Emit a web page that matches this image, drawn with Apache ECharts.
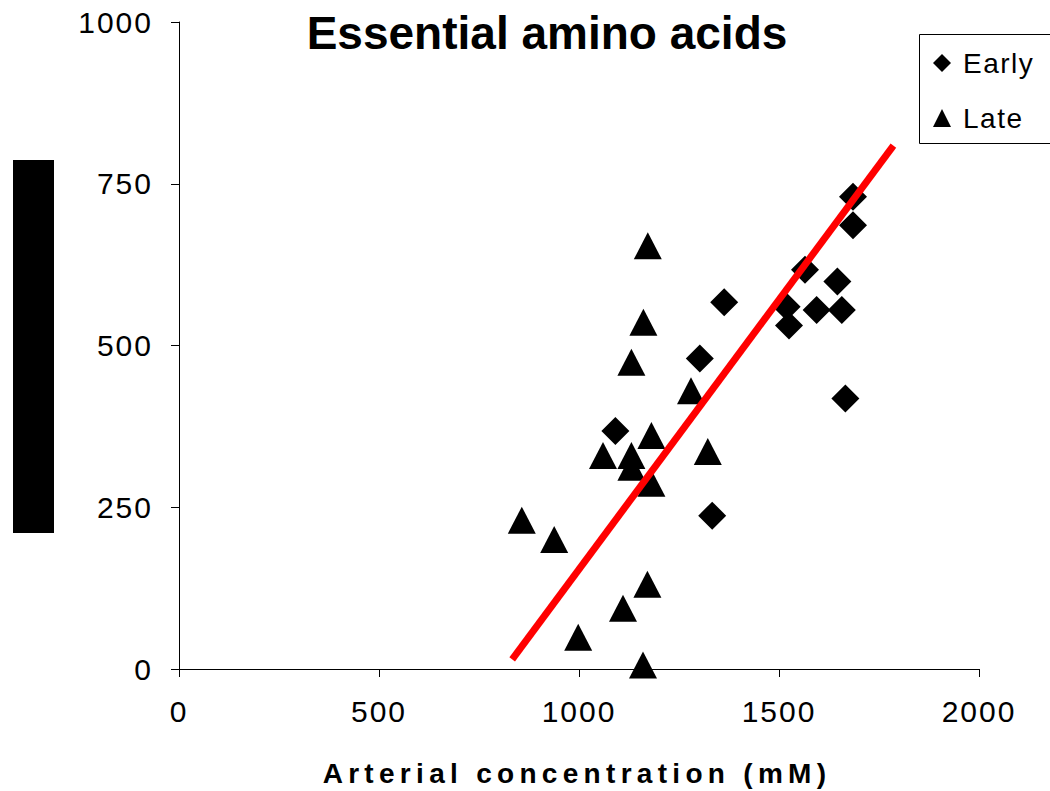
<!DOCTYPE html>
<html>
<head>
<meta charset="utf-8">
<script src="https://cdn.jsdelivr.net/npm/echarts@6/dist/echarts.min.js"></script>
<style>
html,body{margin:0;padding:0;background:#fff;}
#chart{width:1050px;height:791px;}
</style>
</head>
<body>
<div id="chart"></div>
<script>
// ---- data ----
const titleText = 'Essential amino acids';
const xAxisTitle = 'Arterial concentration (mM)';
const seriesNames = ['Early', 'Late'];

const earlyX = [1363, 1302, 1091, 1333, 1685, 1685, 1565, 1646, 1519, 1594, 1657, 1525, 1666];
const earlyY = [567, 480, 368, 237, 730, 686, 617, 599, 560, 555, 555, 531, 418];

const lateX = [1172, 1161, 1131, 1280, 1181, 1060, 1131, 1131, 1181, 1322, 857, 938, 1171, 1110, 998, 1160];
const lateY = [654, 536, 474, 430, 361, 330, 330, 312, 287, 336, 230, 200, 131, 94, 49, 6];

const fitX = [833, 1786];
const fitY = [15, 809];

const xTicks = [0, 500, 1000, 1500, 2000];
const yTicks = [0, 250, 500, 750, 1000];

// ---- build ----
const zip = (xs, ys) => xs.map((x, i) => [x, ys[i]]);
const FONT = '"Liberation Sans", Arial, sans-serif';
const plain = v => String(v);

const chart = echarts.init(document.getElementById('chart'), null, {renderer: 'svg'});

chart.setOption({
  animation: false,
  backgroundColor: '#ffffff',
  grid: {left: 179, right: 71, top: 22, bottom: 122, containLabel: false, outerBoundsMode: 'none'},
  xAxis: {
    type: 'value',
    min: xTicks[0], max: xTicks[xTicks.length - 1], interval: xTicks[1] - xTicks[0],
    splitLine: {show: false},
    axisLine: {show: true, onZero: false, lineStyle: {color: '#000', width: 1}},
    axisTick: {show: true, inside: false, length: 8, lineStyle: {color: '#000'}},
    axisLabel: {margin: 27, color: '#000', fontFamily: FONT, fontSize: 30, formatter: plain}
  },
  yAxis: {
    type: 'value',
    min: yTicks[0], max: yTicks[yTicks.length - 1], interval: yTicks[1] - yTicks[0],
    splitLine: {show: false},
    axisLine: {show: true, onZero: false, lineStyle: {color: '#000', width: 1}},
    axisTick: {show: true, inside: false, length: 8, lineStyle: {color: '#000'}},
    axisLabel: {margin: 26, color: '#000', fontFamily: FONT, fontSize: 30, formatter: plain}
  },
  legend: {
    orient: 'vertical',
    left: 928, top: 44,
    itemWidth: 18, itemHeight: 18,
    itemGap: 27,
    data: [
      {name: seriesNames[0], icon: 'diamond'},
      {name: seriesNames[1], icon: 'triangle'}
    ],
    textStyle: {color: '#000', fontFamily: FONT, fontSize: 28, lineHeight: 26, padding: [0, 0, 0, 7]}
  },
  graphic: [
    {type: 'rect', left: 13, top: 160, shape: {width: 41, height: 373}, style: {fill: '#000'}, z: 10},
    {type: 'rect', shape: {x: 919.5, y: 34.5, width: 200, height: 109}, style: {fill: 'none', stroke: '#000', lineWidth: 1}, z: 0},
    {type: 'text', x: 547, y: 33, style: {text: titleText, fill: '#000', font: 'bold 46px ' + FONT, textAlign: 'center', textVerticalAlign: 'middle'}, z: 10},
    {type: 'text', x: 577, y: 773, style: {text: xAxisTitle, fill: '#000', font: 'bold 28px ' + FONT, textAlign: 'center', textVerticalAlign: 'middle'}, z: 10}
  ],
  series: [
    {
      name: 'fit', type: 'line', data: zip(fitX, fitY),
      showSymbol: false, symbol: 'none',
      lineStyle: {color: '#ff0000', width: 7, cap: 'butt'},
      z: 3, silent: true
    },
    {
      name: seriesNames[0], type: 'scatter', data: zip(earlyX, earlyY),
      symbol: 'diamond', symbolSize: [28, 28],
      itemStyle: {color: '#000', opacity: 1},
      z: 2
    },
    {
      name: seriesNames[1], type: 'scatter', data: zip(lateX, lateY),
      symbol: 'triangle', symbolSize: [28, 27],
      itemStyle: {color: '#000', opacity: 1},
      z: 2
    }
  ]
});

const tickStrings = xTicks.concat(yTicks).map(String);
function spaceLabel() {
  document.querySelectorAll('#chart svg text').forEach(t => {
    const s = t.textContent;
    let ls = null;
    if (s === xAxisTitle) ls = '5.3px';
    else if (tickStrings.indexOf(s) >= 0) ls = '2px';
    else if (seriesNames.indexOf(s) >= 0) ls = '1.5px';
    if (ls) {
      t.style.letterSpacing = ls;
      t.setAttribute('letter-spacing', ls);
    }
  });
}
spaceLabel();
chart.on('finished', spaceLabel);
setTimeout(spaceLabel, 50);
</script>
</body>
</html>
